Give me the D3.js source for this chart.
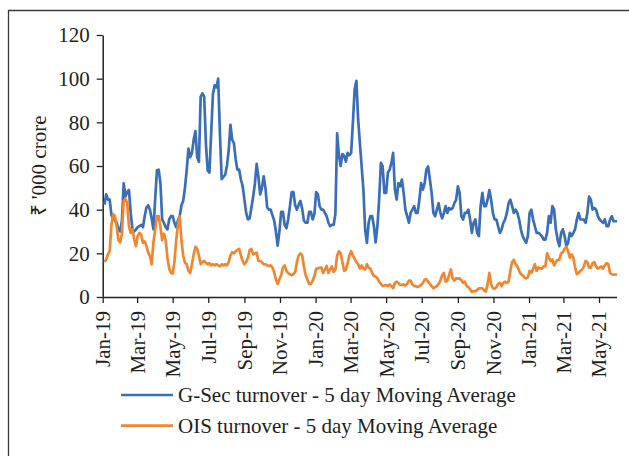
<!DOCTYPE html>
<html>
<head>
<meta charset="utf-8">
<script src="https://cdn.jsdelivr.net/npm/d3@7"></script>
<style>
  html, body { margin: 0; padding: 0; background: #ffffff; }
  svg { display: block; }
</style>
</head>
<body>
<script>
// ---------- DATA ----------
const dates = [
"2019-01-04","2019-01-07","2019-01-10","2019-01-13","2019-01-16","2019-01-19","2019-01-22","2019-01-25","2019-01-28","2019-01-31",
"2019-02-03","2019-02-06","2019-02-09","2019-02-12","2019-02-15","2019-02-18","2019-02-21","2019-02-24","2019-02-27",
"2019-03-02","2019-03-05","2019-03-08","2019-03-11","2019-03-14","2019-03-17","2019-03-20","2019-03-23","2019-03-26","2019-03-29",
"2019-04-01","2019-04-04","2019-04-07","2019-04-10","2019-04-13","2019-04-16","2019-04-19","2019-04-22","2019-04-25","2019-04-28",
"2019-05-01","2019-05-04","2019-05-07","2019-05-10","2019-05-13","2019-05-16","2019-05-19","2019-05-22","2019-05-25","2019-05-28","2019-05-31",
"2019-06-03","2019-06-06","2019-06-09","2019-06-12","2019-06-15","2019-06-18","2019-06-21","2019-06-24","2019-06-27","2019-06-30",
"2019-07-03","2019-07-06","2019-07-09","2019-07-12","2019-07-15","2019-07-18","2019-07-21","2019-07-24","2019-07-27","2019-07-30",
"2019-08-02","2019-08-05","2019-08-08","2019-08-11","2019-08-14","2019-08-17","2019-08-20","2019-08-23","2019-08-26","2019-08-29",
"2019-09-01","2019-09-04","2019-09-07","2019-09-10","2019-09-13","2019-09-16","2019-09-19","2019-09-22","2019-09-25","2019-09-28",
"2019-10-01","2019-10-04","2019-10-07","2019-10-10","2019-10-13","2019-10-16","2019-10-19","2019-10-22","2019-10-25","2019-10-28","2019-10-31",
"2019-11-03","2019-11-06","2019-11-09","2019-11-12","2019-11-15","2019-11-18","2019-11-21","2019-11-24","2019-11-27","2019-11-30",
"2019-12-03","2019-12-06","2019-12-09","2019-12-12","2019-12-15","2019-12-18","2019-12-21","2019-12-24","2019-12-27","2019-12-30",
"2020-01-02","2020-01-05","2020-01-08","2020-01-11","2020-01-14","2020-01-17","2020-01-20","2020-01-23","2020-01-26","2020-01-29",
"2020-02-01","2020-02-04","2020-02-07","2020-02-10","2020-02-13","2020-02-16","2020-02-19","2020-02-22","2020-02-25","2020-02-28",
"2020-03-02","2020-03-05","2020-03-08","2020-03-11","2020-03-14","2020-03-17","2020-03-20","2020-03-23","2020-03-26","2020-03-29",
"2020-04-01","2020-04-04","2020-04-07","2020-04-10","2020-04-13","2020-04-16","2020-04-19","2020-04-22","2020-04-25","2020-04-28",
"2020-05-01","2020-05-04","2020-05-07","2020-05-10","2020-05-13","2020-05-16","2020-05-19","2020-05-22","2020-05-25","2020-05-28","2020-05-31",
"2020-06-03","2020-06-06","2020-06-09","2020-06-12","2020-06-15","2020-06-18","2020-06-21","2020-06-24","2020-06-27","2020-06-30",
"2020-07-03","2020-07-06","2020-07-09","2020-07-12","2020-07-15","2020-07-18","2020-07-21","2020-07-24","2020-07-27","2020-07-30",
"2020-08-02","2020-08-05","2020-08-08","2020-08-11","2020-08-14","2020-08-17","2020-08-20","2020-08-23","2020-08-26","2020-08-29",
"2020-09-01","2020-09-04","2020-09-07","2020-09-10","2020-09-13","2020-09-16","2020-09-19","2020-09-22","2020-09-25","2020-09-28",
"2020-10-01","2020-10-04","2020-10-07","2020-10-10","2020-10-13","2020-10-16","2020-10-19","2020-10-22","2020-10-25","2020-10-28","2020-10-31",
"2020-11-03","2020-11-06","2020-11-09","2020-11-12","2020-11-15","2020-11-18","2020-11-21","2020-11-24","2020-11-27","2020-11-30",
"2020-12-03","2020-12-06","2020-12-09","2020-12-12","2020-12-15","2020-12-18","2020-12-21","2020-12-24","2020-12-27","2020-12-30",
"2021-01-02","2021-01-05","2021-01-08","2021-01-11","2021-01-14","2021-01-17","2021-01-20","2021-01-23","2021-01-26","2021-01-29",
"2021-02-01","2021-02-04","2021-02-07","2021-02-10","2021-02-13","2021-02-16","2021-02-19","2021-02-22","2021-02-25","2021-02-28",
"2021-03-03","2021-03-06","2021-03-09","2021-03-12","2021-03-15","2021-03-18","2021-03-21","2021-03-24","2021-03-27","2021-03-30",
"2021-04-02","2021-04-05","2021-04-08","2021-04-11","2021-04-14","2021-04-17","2021-04-20","2021-04-23","2021-04-26","2021-04-29",
"2021-05-02","2021-05-05","2021-05-08","2021-05-11","2021-05-14","2021-05-17","2021-05-20","2021-05-23","2021-05-26","2021-05-29",
"2021-06-01"
];

const gsec = [
42.3,47,44.6,44.6,37.5,36,35,34,31,30,35,
52,46,48,49,38.5,31,30,31,32,32.5,33,
32,37,41,42,40,36,31,45,58,58.3,52,
35.5,34,32,31,35.5,37,37,34,32,35,37,
42,44,50,58,68,64,66,72,76,64,62,
91.8,93.3,91.8,70,58,57,75,93,97,96,100,
75,54,55,56,60,67,78.9,72,70.5,63,58.3,
58.3,53.8,50.7,44.6,38.5,35.5,36,41,46,52,61,
55,47,50,55.3,50,41,40,40,37.5,35,30,
23.5,30,39,39,33,31.5,35.5,41.5,48,48,42,
40,42.3,44,40.5,35,34,34,39,39,35.5,38,
48,47,41.5,40,40,38.5,37,34,32.4,33,33,38,
75,65,60,65.5,64.7,62,66,65,66,80,95,
99,81.2,70.5,59.8,49.2,31,24.8,34,37,37,32.4,
25,32.4,44.6,61.4,59.8,47.7,47.7,57,58.3,61.4,66,
49.2,44.6,52.2,50.7,53.8,47.7,40,37,34,38.5,40,
41.6,38.5,38.5,44.6,52.2,49.2,52.2,58.3,59.8,53.8,47.7,
38.5,37,40,43,38.5,36,38.5,41.6,38.5,40.8,40,
40.8,43,44.6,50.7,47.7,37,35.5,38.5,38.5,40,35.5,
29.4,34,35.5,29.4,27.9,41.6,47.7,41.6,41.6,44.6,49,
44.6,38.5,35.5,35.5,32.4,29.4,31,34,35.5,38.5,43,
44.6,41.6,38.5,40,38.5,35.5,31,27.9,26.3,24.8,27.9,
38.5,40,35.5,32.4,29.4,29.4,28.7,27.9,26.3,26.3,29.4,
37,34,41.6,40,31,26.3,23.3,29.4,31,27.9,23.3,24.8,
29.4,27.9,29.4,31,35.5,38.5,35.5,35.5,35.5,34,38.5,
46,44.6,40,40.8,40,37,35.5,34.7,34,35.5,32.4,
32.4,35.5,37,34.7,34.7,34.7
];

const ois = [
16,17.2,19.5,21,33,38,37,32,26,25,29,
44,45,43,32.4,29.4,31,26.3,23.3,27.9,29.4,28.5,
24.8,25.5,23.3,20.3,18.7,14.9,25,31,37,37,32,
26,29,26,18,13,11,10.8,16,26,33,37,
26,19,15.7,15,12,11,15,19.5,23,22,19,
15,16,16.5,15.7,15,15.5,14.5,15,14.5,15,14.5,
14,15,14.5,15,14.5,16,19,20.5,20,21,21.5,
22,19,16.5,15,16,18,21.5,22,19.5,20,20.3,
16.5,16.5,16,15,15,14.5,14.2,14.5,13.5,11.5,8,
6,8.1,10,13.5,14.5,12,11,10.4,10,10.4,11.5,
16,19,20,19,14,10,8,6,6,7.5,9.5,
13,13,13.5,13.5,11,12.6,14.2,11,12.6,14,11.5,12.6,
19,21,20,16,12,12.5,15.5,19,21,19,17.5,
16,15,13,14.5,13,12.6,15,13.5,13,11,9.6,
9.4,8.6,7,6,5,5.3,5.5,5,5.8,5,4,
6.5,7,6.5,5.5,5.5,5.8,5.2,6,7.5,7.5,5.8,
5,5,4.5,5,5.5,6.5,8,8.1,7,6,5,
4,4.5,5,6,7.5,10,11,7,7.5,10,12.6,
8.5,7.5,8.5,8.4,8.5,7.7,6.5,7,5,4.5,3.5,
2.3,2.7,2.7,3.2,4,4,4,3,2.5,6,11,
6,4,3.8,4.5,6,6.5,5,6.5,7,6.5,7,
12,16,17,15,14,12,10.5,10,9,8.5,9,
12,11,13,15,12,13.5,13,13,14,14,20,
18,16.5,17.2,14.5,16,17,17,20,20.5,22,23,21,
18,19.5,18,13.5,10.5,11,12,12.5,14,16.5,16,
13.5,13.5,15.5,16,14,13,13.5,14,13,14.5,15.5,
15,11,10.4,10.2,10.3,10.3
];

const yTicks = [0, 20, 40, 60, 80, 100, 120];
const xTickDates = ["2019-01-01","2019-03-01","2019-05-01","2019-07-01","2019-09-01","2019-11-01",
                    "2020-01-01","2020-03-01","2020-05-01","2020-07-01","2020-09-01","2020-11-01",
                    "2021-01-01","2021-03-01","2021-05-01"];
const xTickLabels = ["Jan-19","Mar-19","May-19","Jul-19","Sep-19","Nov-19",
                     "Jan-20","Mar-20","May-20","Jul-20","Sep-20","Nov-20",
                     "Jan-21","Mar-21","May-21"];
const xDomain = ["2019-01-01", "2021-05-31"];
const seriesNames = ["G-Sec turnover - 5 day Moving Average", "OIS turnover - 5 day Moving Average"];
const yTitle = "₹ '000 crore";

// ---------- CHART ----------
const W = 629, H = 456;
const FONT = "'Liberation Serif', 'Times New Roman', serif";
const FS = 21;
const TXT = "#231f20";
const BLUE = "#3a6eb8", ORANGE = "#f0862f";

const parse = d3.timeParse("%Y-%m-%d");
const svg = d3.select("body").append("svg").attr("width", W).attr("height", H);

// outer frame
svg.append("path")
  .attr("d", "M8.5," + H + "V10.5H" + W)
  .attr("fill", "none").attr("stroke", "#3a3a3a").attr("stroke-width", 1.3);

const x = d3.scaleTime().domain(xDomain.map(parse)).range([102.7, 616.5]);
const y = d3.scaleLinear().domain([0, 120]).range([297, 35]);

// x axis
const gx = svg.append("g").attr("transform", "translate(0," + y(0) + ")")
  .call(d3.axisBottom(x)
    .tickValues(xTickDates.map(parse))
    .tickFormat((d, i) => xTickLabels[i])
    .tickSize(6).tickSizeOuter(0));
gx.select(".domain").attr("stroke", "#222").attr("stroke-width", 1.5);
gx.selectAll(".tick line").attr("stroke", "#222").attr("stroke-width", 1.3);
gx.selectAll(".tick text")
  .attr("transform", "rotate(-90)")
  .attr("x", -14).attr("y", 0).attr("dy", "0.33em")
  .attr("text-anchor", "end")
  .attr("font-family", FONT).attr("font-size", FS).attr("fill", TXT);

// y axis
const gy = svg.append("g").attr("transform", "translate(" + x(parse(xDomain[0])) + ",0)")
  .call(d3.axisLeft(y).tickValues(yTicks).tickSize(6).tickSizeOuter(0).tickPadding(7));
gy.select(".domain").attr("stroke", "#222").attr("stroke-width", 1.5);
gy.selectAll(".tick line").attr("stroke", "#222").attr("stroke-width", 1.3);
gy.selectAll(".tick text")
  .attr("font-family", FONT).attr("font-size", FS).attr("fill", TXT);

// y title
svg.append("text")
  .attr("transform", "translate(46," + ((y(0) + y(120)) / 2) + ") rotate(-90)")
  .attr("text-anchor", "middle")
  .attr("font-family", FONT).attr("font-size", FS).attr("fill", TXT)
  .text(yTitle);

// lines
const line = d3.line()
  .x((d, i) => x(parse(dates[i])))
  .y(d => y(d));

[[gsec, BLUE], [ois, ORANGE]].forEach(([vals, col]) => {
  svg.append("path")
    .datum(vals)
    .attr("d", line)
    .attr("fill", "none")
    .attr("stroke", col)
    .attr("stroke-width", 2.7)
    .attr("stroke-linejoin", "round");
});

// legend
const legend = svg.append("g");
[[seriesNames[0], BLUE, 395], [seriesNames[1], ORANGE, 425.7]].forEach(([name, col, ly]) => {
  legend.append("line")
    .attr("x1", 121).attr("x2", 173).attr("y1", ly).attr("y2", ly)
    .attr("stroke", col).attr("stroke-width", 2.7);
  legend.append("text")
    .attr("x", 178).attr("y", ly + 7)
    .attr("font-family", FONT).attr("font-size", FS).attr("fill", TXT)
    .text(name);
});
</script>
</body>
</html>
